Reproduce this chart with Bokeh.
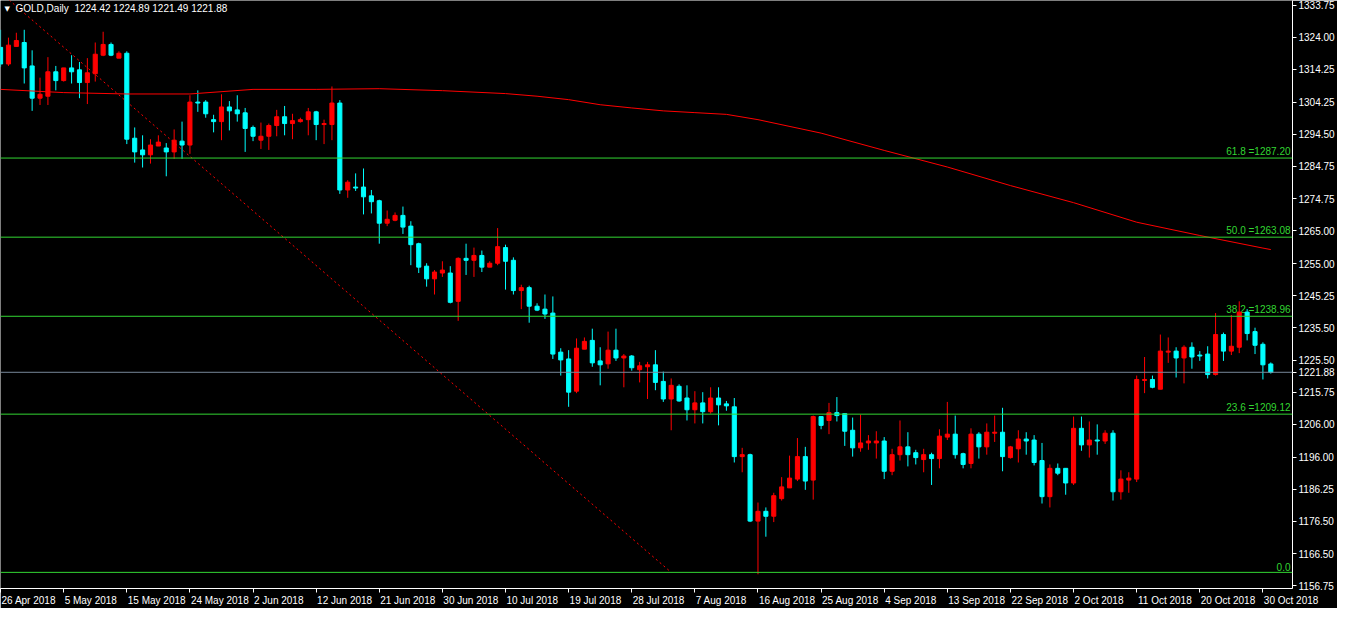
from bokeh.plotting import figure
from bokeh.models import Range1d, FixedTicker, Span, Label, ColumnDataSource, PrintfTickFormatter
from bokeh.embed import file_html
from bokeh.resources import INLINE

# ---------------- data ----------------
opens = [1320.95, 1315.88, 1321.24, 1322.43, 1315.29, 1305.46, 1306.06, 1313.50, 1310.82, 1314.69,
         1314.10, 1310.22, 1312.91, 1318.56, 1321.84, 1317.67, 1319.16, 1293.25, 1289.68, 1288.19,
         1290.87, 1290.27, 1289.08, 1292.36, 1291.17, 1304.27, 1304.27, 1298.91, 1298.31, 1302.78,
         1301.89, 1300.99, 1296.53, 1292.65, 1293.85, 1297.12, 1299.80, 1297.72, 1298.31, 1298.91,
         1301.29, 1297.42, 1297.42, 1303.97, 1277.47, 1278.36, 1278.36, 1275.68, 1274.19, 1267.34,
         1268.24, 1269.72, 1266.45, 1261.09, 1254.24, 1250.37, 1252.15, 1252.15, 1243.52, 1256.62,
         1256.03, 1257.51, 1253.94, 1255.13, 1259.90, 1256.03, 1246.80, 1247.69, 1242.03, 1241.14,
         1239.94, 1228.03, 1225.95, 1216.12, 1228.93, 1231.61, 1225.35, 1224.46, 1228.63, 1226.25,
         1226.84, 1222.67, 1223.57, 1224.16, 1219.10, 1213.74, 1217.61, 1214.04, 1210.46, 1212.55,
         1209.87, 1214.04, 1212.25, 1211.36, 1196.17, 1196.76, 1176.51, 1179.49, 1178.00, 1183.36,
         1186.64, 1189.32, 1196.17, 1189.02, 1208.38, 1207.19, 1209.57, 1209.27, 1204.21, 1198.85,
         1200.34, 1200.34, 1200.93, 1191.70, 1196.76, 1199.15, 1197.36, 1195.27, 1196.76, 1195.57,
         1202.12, 1203.02, 1197.06, 1194.08, 1203.02, 1199.15, 1203.31, 1203.61, 1195.87, 1198.55,
         1201.53, 1201.23, 1194.98, 1183.96, 1192.60, 1192.60, 1188.13, 1204.80, 1199.74, 1201.23,
         1200.93, 1203.31, 1185.45, 1189.02, 1189.32, 1219.39, 1219.69, 1216.72, 1228.03, 1228.34,
         1226.25, 1229.52, 1227.14, 1227.44, 1221.19, 1233.39, 1228.34, 1229.52, 1240.24, 1234.29,
         1230.42, 1224.42]
highs = [1326.31, 1323.92, 1325.41, 1326.31, 1320.05, 1311.71, 1317.97, 1315.29, 1314.69, 1318.56,
         1316.48, 1317.67, 1322.43, 1325.71, 1322.43, 1319.75, 1319.75, 1296.53, 1294.14, 1292.95,
         1294.14, 1291.76, 1295.93, 1298.31, 1306.35, 1307.84, 1304.86, 1300.40, 1306.65, 1304.57,
         1306.35, 1302.48, 1297.12, 1298.02, 1297.72, 1301.89, 1303.08, 1300.70, 1299.50, 1302.48,
         1301.60, 1298.91, 1309.03, 1304.86, 1280.45, 1282.53, 1284.02, 1277.47, 1274.49, 1271.21,
         1270.62, 1272.41, 1267.94, 1261.39, 1255.13, 1253.05, 1255.73, 1254.24, 1256.92, 1261.09,
         1259.90, 1259.00, 1255.73, 1265.85, 1260.79, 1256.92, 1248.58, 1248.28, 1242.92, 1245.60,
         1245.01, 1229.22, 1228.63, 1232.20, 1232.50, 1235.18, 1229.52, 1234.29, 1235.18, 1227.44,
         1227.14, 1225.05, 1225.05, 1228.63, 1222.08, 1220.00, 1218.21, 1217.91, 1216.12, 1215.82,
         1217.31, 1217.31, 1213.14, 1214.04, 1198.85, 1197.06, 1182.17, 1180.68, 1185.15, 1189.91,
         1196.47, 1201.83, 1199.15, 1208.68, 1208.38, 1212.55, 1214.33, 1209.27, 1208.08, 1208.97,
         1202.72, 1203.91, 1202.12, 1198.55, 1207.19, 1203.61, 1198.25, 1198.55, 1197.36, 1204.51,
         1212.85, 1208.68, 1197.36, 1204.80, 1203.61, 1206.29, 1208.68, 1211.06, 1199.44, 1204.21,
         1203.61, 1202.72, 1200.34, 1193.79, 1194.08, 1192.60, 1208.38, 1208.38, 1206.89, 1206.00,
         1204.21, 1204.21, 1191.99, 1191.40, 1220.88, 1226.54, 1220.88, 1233.39, 1232.50, 1229.52,
         1230.12, 1231.01, 1228.34, 1229.82, 1239.94, 1233.99, 1239.35, 1243.52, 1241.14, 1235.48,
         1231.01, 1224.89]
lows = [1314.99, 1315.29, 1321.24, 1309.93, 1301.59, 1303.38, 1303.38, 1307.84, 1310.52, 1309.93,
        1305.46, 1303.67, 1310.52, 1318.27, 1318.27, 1317.67, 1291.46, 1285.81, 1284.32, 1285.51,
        1290.87, 1281.64, 1286.98, 1286.98, 1288.49, 1301.29, 1299.50, 1295.04, 1292.65, 1295.63,
        1298.31, 1289.08, 1292.36, 1289.97, 1289.68, 1293.85, 1294.14, 1292.95, 1298.02, 1294.14,
        1292.65, 1291.46, 1292.65, 1276.28, 1275.08, 1277.17, 1270.02, 1270.32, 1261.09, 1266.45,
        1267.94, 1264.07, 1254.54, 1252.15, 1247.99, 1245.60, 1250.96, 1242.90, 1237.56, 1251.56,
        1250.96, 1252.45, 1253.94, 1254.54, 1247.09, 1245.60, 1241.14, 1237.00, 1240.54, 1238.16,
        1225.95, 1220.88, 1211.36, 1215.52, 1228.93, 1223.56, 1217.91, 1222.97, 1225.35, 1217.31,
        1222.37, 1218.80, 1213.74, 1216.42, 1212.85, 1204.21, 1212.90, 1207.19, 1206.29, 1206.29,
        1209.27, 1205.70, 1210.16, 1194.38, 1191.40, 1176.21, 1160.30, 1171.75, 1176.21, 1182.77,
        1186.64, 1188.72, 1186.04, 1183.06, 1204.51, 1203.02, 1206.89, 1199.44, 1196.17, 1197.66,
        1198.25, 1195.57, 1189.32, 1190.51, 1194.98, 1193.19, 1193.78, 1191.40, 1187.53, 1192.60,
        1201.23, 1195.57, 1192.60, 1192.60, 1195.57, 1196.76, 1200.64, 1191.70, 1195.57, 1194.38,
        1196.76, 1193.49, 1181.87, 1180.68, 1190.51, 1184.55, 1187.53, 1197.95, 1195.87, 1196.76,
        1200.04, 1182.77, 1183.06, 1185.15, 1188.42, 1215.52, 1217.01, 1216.72, 1224.76, 1220.29,
        1218.50, 1222.97, 1225.35, 1220.00, 1220.88, 1225.35, 1227.14, 1227.73, 1231.61, 1227.44,
        1219.69, 1221.49]
closes = [1315.88, 1321.63, 1323.03, 1314.69, 1305.46, 1306.65, 1313.50, 1310.82, 1314.69, 1313.50,
          1310.22, 1313.20, 1318.86, 1321.84, 1318.56, 1319.16, 1292.95, 1289.08, 1288.19, 1291.17,
          1292.06, 1289.08, 1292.65, 1291.17, 1304.27, 1303.97, 1300.70, 1298.31, 1302.78, 1301.59,
          1300.70, 1296.23, 1293.85, 1293.85, 1297.12, 1299.80, 1297.72, 1298.61, 1298.91, 1301.29,
          1297.42, 1297.72, 1303.97, 1277.47, 1279.85, 1278.06, 1275.38, 1273.89, 1267.34, 1268.53,
          1269.72, 1266.15, 1260.79, 1253.94, 1250.37, 1252.45, 1253.05, 1243.22, 1256.62, 1256.03,
          1257.51, 1253.94, 1255.13, 1260.19, 1255.73, 1246.80, 1247.69, 1242.03, 1240.84, 1239.65,
          1227.44, 1225.65, 1215.82, 1229.22, 1231.31, 1224.76, 1224.16, 1228.63, 1226.25, 1226.84,
          1223.27, 1223.86, 1224.16, 1218.80, 1213.74, 1217.91, 1213.14, 1210.46, 1212.55, 1209.87,
          1214.04, 1211.95, 1211.65, 1196.17, 1196.76, 1176.51, 1179.49, 1177.98, 1184.25, 1186.94,
          1189.62, 1196.17, 1188.72, 1208.38, 1205.70, 1209.57, 1208.68, 1203.91, 1198.85, 1200.34,
          1200.93, 1200.93, 1191.70, 1196.76, 1199.15, 1196.76, 1195.87, 1196.76, 1195.57, 1202.42,
          1203.02, 1196.76, 1193.78, 1203.02, 1199.15, 1203.61, 1203.61, 1196.17, 1199.15, 1201.53,
          1200.93, 1194.38, 1183.96, 1192.60, 1191.11, 1188.13, 1204.80, 1199.74, 1201.23, 1200.93,
          1203.31, 1185.45, 1189.32, 1189.62, 1219.69, 1219.69, 1217.31, 1228.34, 1228.34, 1226.25,
          1229.52, 1226.54, 1226.84, 1221.19, 1233.39, 1228.34, 1229.82, 1240.24, 1233.69, 1230.12,
          1224.16, 1221.88]

# moving average (red line), read at these bar positions
ma_bars = [0, 8, 16, 24, 32, 40, 48, 56, 64, 68, 72, 76, 80, 84, 88, 92, 96, 104, 112, 120,
           128, 136, 144, 152, 160, 161]
ma_values = [1308.14, 1307.16, 1306.74, 1306.74, 1308.14, 1308.14, 1308.35, 1307.75, 1306.86, 1306.06,
             1305.01, 1303.46, 1302.48, 1301.59, 1301.05, 1300.52, 1298.91, 1294.80, 1289.53, 1284.47,
             1278.81, 1273.60, 1267.64, 1263.59, 1259.75, 1259.30]

# Fibonacci retracement
fib_names = ["0.0", "23.6", "38.2", "50.0", "61.8"]
fib_prices = [1160.88, 1209.12, 1238.96, 1263.08, 1287.20]
fib_trend_bars = [-13.3, 85]
fib_trend_prices = [1365.28, 1160.88]

# axis ticks
date_tick_bars = [0, 8, 16, 24, 32, 40, 48, 56, 64, 72, 80, 88, 96, 104, 112, 120, 128, 136, 144, 152, 160]
date_tick_labels = ["26 Apr 2018", "5 May 2018", "15 May 2018", "24 May 2018", "2 Jun 2018", "12 Jun 2018",
                    "21 Jun 2018", "30 Jun 2018", "10 Jul 2018", "19 Jul 2018", "28 Jul 2018", "7 Aug 2018",
                    "16 Aug 2018", "25 Aug 2018", "4 Sep 2018", "13 Sep 2018", "22 Sep 2018", "2 Oct 2018",
                    "11 Oct 2018", "20 Oct 2018", "30 Oct 2018"]
price_ticks = [1333.75, 1324.00, 1314.25, 1304.25, 1294.50, 1284.75, 1274.75, 1265.00, 1255.00, 1245.25,
               1235.50, 1225.50, 1215.75, 1206.00, 1196.00, 1186.25, 1176.50, 1166.50, 1156.75]

symbol = "GOLD,Daily"
last_bar = [1224.42, 1224.89, 1221.49, 1221.88]
bid_price = 1221.88

# ---------------- styling ----------------
FONT = "Liberation Sans"
FS = 10  # px
BULL = "#FF0000"
BEAR = "#00FFFF"
FIB = "#32D632"

W, H = 1337, 608
BORDER_R, BORDER_B = 43, 18
X0, X1 = -0.01, 163.75
Y0, Y1 = 1155.96, 1335.24
FRAME_W = W - BORDER_R
px_per_bar = FRAME_W / (X1 - X0)

p = figure(width=W, height=H, output_backend="svg", toolbar_location=None,
           x_range=Range1d(X0, X1), y_range=Range1d(Y0, Y1), y_axis_location="right",
           background_fill_color="black", border_fill_color="black",
           min_border_left=0, min_border_top=0, min_border_right=BORDER_R, min_border_bottom=BORDER_B)
p.outline_line_color = None
p.grid.visible = False

n = len(opens)
xs = list(range(n))
colors = [BULL if c >= o else BEAR for o, c in zip(opens, closes)]
src = ColumnDataSource(dict(
    x=xs, high=highs, low=lows,
    top=[max(o, c) for o, c in zip(opens, closes)],
    bottom=[min(o, c) for o, c in zip(opens, closes)],
    color=colors))

# fib levels (full width lines)
for price in fib_prices:
    p.add_layout(Span(location=price, dimension="width", line_color=FIB, line_width=1))

# bid line
p.add_layout(Span(location=bid_price, dimension="width", line_color="#778899", line_width=1))

# fib trend line (dotted)
p.line(fib_trend_bars, fib_trend_prices, line_color="#FF0000", line_width=1, line_dash="2 3")

# fib labels (behind the candles, as in the terminal)
for name, price in zip(fib_names, fib_prices):
    txt = name if name == "0.0" else f"{name} ={price:.2f}"
    p.add_layout(Label(x=X1, y=price, x_offset=-2, y_offset=1, text=txt,
                       text_align="right", text_baseline="bottom", level="underlay",
                       text_color=FIB, text_font=FONT, text_font_size=f"{FS}px"))

# candles
p.segment(x0="x", y0="low", x1="x", y1="high", source=src, line_color="color", line_width=1)
p.vbar(x="x", width=0.52, top="top", bottom="bottom", source=src,
       fill_color="color", line_color="color", line_width=1)

# moving average
p.line(ma_bars, ma_values, line_color="#FF0000", line_width=1)

# header
p.add_layout(Label(x=X0, y=Y1, x_offset=4, y_offset=-8, text="\u25BC",
                   text_align="left", text_baseline="middle", text_color="white",
                   text_font="DejaVu Sans", text_font_size="7px"))
p.add_layout(Label(x=X0, y=Y1, x_offset=15, y_offset=-8,
                   text=symbol + "\u00A0\u00A0" + " ".join(f"{v:.2f}" for v in last_bar),
                   text_align="left", text_baseline="middle", text_color="white",
                   text_font=FONT, text_font_size=f"{FS}px"))

# ---- date axis: tick marks at the bars (minor ticks), label text starting at each mark ----
ADV = {"0": 556, "1": 556, "2": 556, "3": 556, "4": 556, "5": 556, "6": 556, "7": 556, "8": 556,
       "9": 556, " ": 278, "A": 667, "M": 833, "J": 500, "S": 667, "O": 778, "p": 556, "r": 333,
       "a": 556, "y": 500, "u": 556, "n": 556, "l": 222, "g": 556, "e": 556, "c": 500, "t": 278}


def text_px(s):
    return sum(ADV.get(ch, 556) for ch in s) * FS / 1000.0


label_centers = [round(b + (text_px(lab) / 2 + 1) / px_per_bar, 3)
                 for b, lab in zip(date_tick_bars, date_tick_labels)]
p.xaxis.ticker = FixedTicker(ticks=label_centers, minor_ticks=date_tick_bars)
p.xaxis.major_label_overrides = {c: lab for c, lab in zip(label_centers, date_tick_labels)}
p.xaxis.major_tick_line_color = None
p.xaxis.minor_tick_line_color = "white"
p.xaxis.minor_tick_in = 0
p.xaxis.minor_tick_out = 4

# price axis, including the current bid price mark
p.yaxis.ticker = FixedTicker(ticks=price_ticks + [bid_price])
p.yaxis.formatter = PrintfTickFormatter(format="%.2f")
p.yaxis.major_tick_line_color = "white"
p.yaxis.minor_tick_line_color = None

for ax in (p.xaxis[0], p.yaxis[0]):
    ax.axis_line_color = "white"
    ax.axis_line_width = 1
    ax.major_tick_in = 0
    ax.major_tick_out = 4
    ax.major_label_text_color = "white"
    ax.major_label_text_font = FONT
    ax.major_label_text_font_size = f"{FS}px"
    ax.major_label_standoff = 2

open("out.html", "w").write(file_html(p, INLINE))
